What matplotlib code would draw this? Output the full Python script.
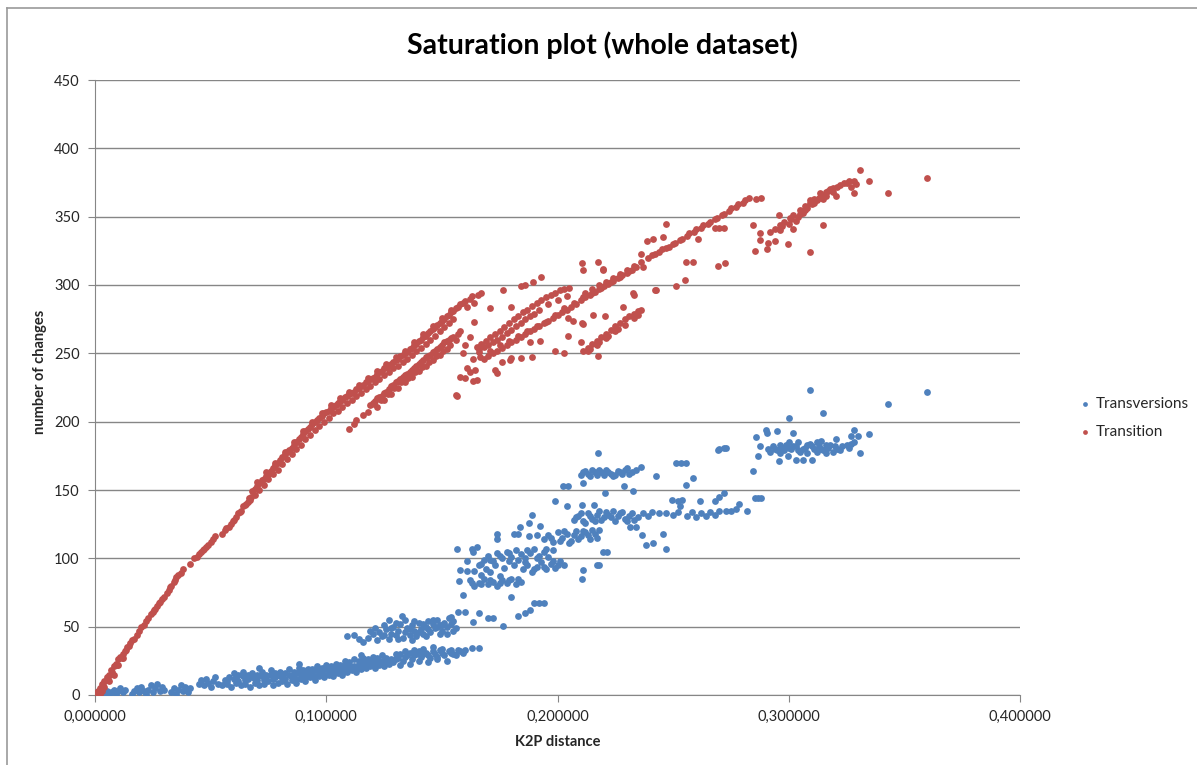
import numpy as np
import matplotlib.pyplot as plt
from matplotlib.lines import Line2D
from matplotlib.ticker import FuncFormatter

plt.rcParams['font.family'] = ['Lato', 'DejaVu Sans']

# ---- Transition (red) : (K2P distance, number of changes) ----
ts_origin = [(0.000, 0), (0.001, 2), (0.002, 5), (0.003, 8), (0.004, 10), (0.005, 13), (0.006, 15),
             (0.007, 18), (0.008, 21), (0.009, 23), (0.010, 26), (0.011, 28), (0.012, 30), (0.013, 32),
             (0.014, 35), (0.015, 38), (0.016, 40), (0.018, 44), (0.019, 47), (0.020, 50), (0.022, 54),
             (0.024, 59), (0.025, 61), (0.026, 63), (0.027, 65), (0.028, 68), (0.029, 70), (0.031, 75),
             (0.032, 77), (0.033, 80), (0.034, 83), (0.035, 86), (0.036, 88), (0.038, 92), (0.041, 96),
             (0.043, 100), (0.045, 103), (0.046, 105), (0.047, 107), (0.049, 110), (0.050, 112),
             (0.052, 116), (0.055, 118), (0.056, 121), (0.058, 123), (0.059, 125), (0.060, 128),
             (0.061, 130), (0.062, 133), (0.063, 135), (0.064, 138), (0.065, 139), (0.066, 141),
             (0.067, 143), (0.001, 0), (0.002, 1), (0.003, 3), (0.004, 6), (0.006, 10), (0.008, 15),
             (0.010, 22), (0.012, 27)]

ts_origin_fill = [(0.0015, 3), (0.0035, 7), (0.0055, 12), (0.0075, 17), (0.0095, 22), (0.0115, 27),
                  (0.0135, 33), (0.0145, 36), (0.017, 41), (0.021, 51), (0.023, 56), (0.0255, 62),
                  (0.0275, 67), (0.030, 72), (0.0325, 79), (0.0345, 84), (0.037, 89), (0.044, 101),
                  (0.0465, 106), (0.048, 108), (0.051, 114), (0.0565, 122), (0.0595, 127),
                  (0.0625, 134), (0.0655, 140), (0.0665, 144), (0.0675, 145)]

ts_band_hi = [(0.068, 149), (0.069, 151), (0.070, 153), (0.071, 155), (0.072, 157), (0.073, 158),
              (0.074, 160), (0.075, 162), (0.076, 164), (0.077, 166), (0.078, 168), (0.079, 170),
              (0.080, 172), (0.081, 174), (0.082, 176), (0.083, 178), (0.084, 179), (0.085, 181),
              (0.086, 183), (0.087, 185), (0.088, 187), (0.089, 189), (0.090, 191), (0.091, 193),
              (0.092, 195), (0.093, 196), (0.094, 198), (0.095, 200), (0.096, 201), (0.097, 203),
              (0.098, 204), (0.099, 206), (0.100, 207), (0.101, 208), (0.102, 210), (0.103, 211),
              (0.104, 212), (0.105, 214), (0.106, 215), (0.107, 216), (0.108, 218), (0.109, 219),
              (0.110, 220), (0.111, 221), (0.112, 222), (0.113, 224), (0.114, 225), (0.115, 226),
              (0.116, 227), (0.117, 229), (0.118, 230), (0.119, 231), (0.120, 232), (0.121, 233),
              (0.122, 235), (0.123, 236), (0.124, 237), (0.125, 239), (0.126, 240), (0.127, 241),
              (0.128, 242), (0.129, 244), (0.130, 245), (0.131, 246), (0.132, 248), (0.133, 249),
              (0.134, 250), (0.135, 251), (0.136, 253), (0.137, 254), (0.138, 256), (0.139, 257),
              (0.140, 259), (0.141, 260), (0.142, 262), (0.143, 263), (0.144, 265), (0.145, 266),
              (0.146, 268), (0.147, 269), (0.148, 271), (0.149, 272), (0.150, 274), (0.151, 275),
              (0.152, 277), (0.153, 278), (0.154, 280), (0.155, 281), (0.156, 283), (0.157, 284),
              (0.158, 286), (0.159, 287), (0.160, 288), (0.162, 290), (0.163, 292), (0.1656, 293),
              (0.167, 294), (0.161, 284), (0.164, 287)]

ts_band_lo = [(0.069, 146), (0.071, 150), (0.073, 154), (0.075, 158), (0.077, 162), (0.079, 165),
              (0.081, 169), (0.083, 173), (0.085, 176), (0.087, 180), (0.089, 183), (0.091, 187),
              (0.093, 190), (0.095, 194), (0.097, 197), (0.099, 200), (0.101, 203), (0.103, 206),
              (0.105, 208), (0.107, 211), (0.109, 214), (0.111, 216), (0.113, 219), (0.115, 221),
              (0.117, 224), (0.119, 226), (0.121, 229), (0.123, 231), (0.125, 234), (0.127, 236),
              (0.129, 239), (0.131, 241), (0.133, 244), (0.135, 246), (0.137, 249), (0.139, 252),
              (0.141, 254), (0.143, 257), (0.145, 260), (0.147, 263), (0.149, 266), (0.151, 269),
              (0.153, 272), (0.155, 275)]

ts_band_top = [(0.070, 156), (0.074, 163), (0.078, 170), (0.082, 178), (0.086, 185), (0.090, 193),
               (0.094, 200), (0.098, 206), (0.102, 212), (0.106, 217), (0.110, 222), (0.114, 227),
               (0.118, 232), (0.122, 237), (0.126, 242), (0.130, 247), (0.134, 252), (0.138, 258),
               (0.142, 264), (0.146, 270), (0.150, 276), (0.154, 282)]

ts_branch = [(0.119, 212), (0.120, 214), (0.121, 215), (0.122, 217), (0.123, 218), (0.124, 219),
             (0.125, 221), (0.126, 222), (0.127, 224), (0.128, 226), (0.129, 227), (0.130, 229),
             (0.131, 230), (0.132, 231), (0.133, 233), (0.134, 234), (0.135, 235), (0.136, 236),
             (0.137, 238), (0.138, 239), (0.139, 241), (0.140, 242), (0.141, 244), (0.142, 245),
             (0.143, 247), (0.144, 248), (0.145, 249), (0.146, 251), (0.147, 252), (0.148, 253),
             (0.149, 255), (0.150, 256), (0.151, 258), (0.152, 259), (0.153, 260), (0.154, 261),
             (0.155, 262), (0.157, 264), (0.158, 266), (0.122, 211), (0.125, 216), (0.128, 220),
             (0.131, 225), (0.134, 229), (0.137, 233), (0.140, 237), (0.143, 241), (0.146, 245),
             (0.149, 249), (0.152, 253), (0.110, 195), (0.113, 201), (0.116, 205), (0.112, 198),
             (0.118, 207), (0.156, 219.5), (0.158, 233), (0.161, 239), (0.1635, 230), (0.160, 256),
             (0.162, 262), (0.159, 250), (0.1205, 213), (0.1235, 216), (0.1265, 220), (0.1295, 225),
             (0.1325, 229), (0.1355, 232), (0.1385, 236), (0.1415, 240), (0.1445, 244), (0.1475, 248),
             (0.1505, 252), (0.1535, 256), (0.156, 260)]

ts_mid = [(0.165, 255), (0.167, 257), (0.169, 259), (0.171, 262), (0.173, 264), (0.175, 266),
          (0.177, 269), (0.179, 272), (0.181, 275), (0.183, 277), (0.185, 280), (0.187, 282),
          (0.189, 285), (0.191, 287), (0.193, 289), (0.195, 291), (0.197, 293), (0.199, 294),
          (0.201, 296), (0.203, 297), (0.205, 298), (0.166, 251), (0.170, 256), (0.174, 260),
          (0.178, 265), (0.182, 270), (0.186, 275), (0.190, 279),
          (0.168, 246), (0.170, 248), (0.172, 250), (0.174, 252), (0.176, 254), (0.178, 256),
          (0.180, 258), (0.182, 260), (0.184, 262), (0.186, 264), (0.188, 266), (0.190, 268),
          (0.192, 270), (0.194, 272), (0.196, 274), (0.198, 276), (0.200, 278), (0.202, 280),
          (0.204, 282), (0.206, 284), (0.208, 286), (0.210, 289), (0.212, 291), (0.214, 293),
          (0.216, 295), (0.218, 297), (0.220, 299), (0.222, 301), (0.224, 303), (0.226, 305),
          (0.228, 307), (0.230, 309), (0.232, 311), (0.234, 313)]

ts_mid_fill = [(0.166, 253), (0.168, 255), (0.172, 258), (0.176, 262), (0.180, 267), (0.184, 272),
               (0.188, 277), (0.192, 282), (0.196, 286), (0.200, 289), (0.204, 292), (0.171, 252),
               (0.175, 256), (0.179, 259), (0.183, 263), (0.187, 266), (0.191, 270), (0.195, 273),
               (0.199, 278), (0.203, 283), (0.207, 287), (0.211, 291), (0.215, 294), (0.219, 298),
               (0.223, 302), (0.227, 306), (0.231, 310), (0.213, 252), (0.217, 256), (0.221, 261),
               (0.225, 266), (0.229, 271), (0.233, 276), (0.235, 278), (0.241, 322), (0.247, 327),
               (0.253, 333), (0.259, 339), (0.265, 345), (0.271, 351), (0.277, 357), (0.280, 360),
               (0.244, 324), (0.250, 330), (0.256, 336), (0.262, 342), (0.268, 348), (0.274, 354)]

ts_upper_right = [(0.212, 294), (0.215, 297), (0.218, 300), (0.221, 302), (0.224, 305), (0.227, 308),
                  (0.230, 311), (0.233, 314), (0.236, 317), (0.239, 320), (0.242, 323), (0.245, 326),
                  (0.248, 328), (0.251, 331), (0.254, 334), (0.257, 338), (0.260, 341), (0.263, 344),
                  (0.266, 346), (0.269, 349), (0.272, 352), (0.275, 356), (0.278, 359), (0.281, 362),
                  (0.283, 364), (0.286, 363), (0.288, 364)]

ts_lower_right = [(0.211, 252), (0.213, 254), (0.215, 257), (0.217, 259), (0.219, 262), (0.221, 264),
                  (0.223, 267), (0.225, 270), (0.227, 272), (0.229, 275), (0.231, 277), (0.233, 279),
                  (0.235, 281), (0.236, 282), (0.214, 253), (0.218, 258), (0.222, 263), (0.226, 268)]

ts_far = [(0.2919, 339), (0.294, 341), (0.2962, 344), (0.298, 346), (0.3005, 349), (0.302, 351),
          (0.3049, 355), (0.307, 358), (0.3092, 362), (0.311, 363), (0.3135, 367), (0.316, 368),
          (0.3193, 371), (0.322, 373), (0.3237, 375), (0.326, 376), (0.328, 376), (0.3308, 384),
          (0.3347, 376), (0.3428, 367.5), (0.3596, 378), (0.3282, 367.5), (0.327, 372), (0.329, 374),
          (0.300, 345), (0.304, 350), (0.308, 356), (0.312, 362), (0.316, 365), (0.296, 340),
          (0.306, 353), (0.310, 359), (0.314, 366), (0.318, 370), (0.297, 343), (0.301, 348),
          (0.305, 352), (0.309, 360), (0.313, 364), (0.317, 369), (0.321, 372), (0.325, 375),
          (0.303, 347), (0.307, 355), (0.311, 360), (0.315, 363), (0.319, 368)]

ts_scatter = [(0.2847, 344), (0.2876, 338), (0.2876, 333), (0.2854, 325), (0.2905, 326), (0.291, 331),
              (0.294, 332), (0.2997, 330), (0.3018, 341), (0.2958, 351), (0.3092, 324), (0.3149, 344),
              (0.3204, 365), (0.2608, 334), (0.268, 342), (0.270, 342), (0.272, 342), (0.2694, 314),
              (0.2724, 316), (0.2555, 317), (0.2586, 317), (0.2426, 296), (0.2513, 299), (0.255, 304),
              (0.247, 345), (0.2385, 332), (0.2414, 334), (0.2457, 335), (0.236, 323), (0.237, 313),
              (0.233, 293), (0.2284, 284), (0.2205, 277), (0.211, 271.5), (0.2068, 274), (0.2105, 316),
              (0.2177, 317), (0.2198, 312), (0.184, 299), (0.1895, 302), (0.193, 306), (0.1766, 296),
              (0.164, 273), (0.171, 283), (0.180, 284), (0.199, 252), (0.203, 250), (0.2177, 248),
              (0.210, 258), (0.1737, 235.5), (0.165, 230.5), (0.160, 232), (0.184, 246.5), (0.189, 247),
              (0.1758, 244), (0.1795, 245), (0.1665, 247.5), (0.1636, 246), (0.211, 311), (0.2196, 311),
              (0.2422, 296), (0.2045, 263), (0.2104, 272), (0.2154, 278), (0.2045, 276), (0.1881, 258.5),
              (0.1924, 259), (0.180, 246.5), (0.173, 238), (0.1643, 237.8), (0.1564, 218.8), (0.162, 236),
              (0.2327, 294), (0.186, 300)]

# ---- Transversions (blue) ----
tv_origin = [(0.001, 0), (0.002, 1), (0.003, 2), (0.004, 0), (0.005, 3), (0.006, 1), (0.007, 2),
             (0.008, 4), (0.009, 1), (0.010, 3), (0.011, 5), (0.012, 2), (0.013, 4), (0.016, 1),
             (0.017, 3), (0.018, 5), (0.019, 2), (0.020, 6), (0.021, 3), (0.022, 1), (0.023, 4),
             (0.024, 7), (0.025, 2), (0.026, 5), (0.027, 8), (0.028, 3), (0.029, 6), (0.030, 4),
             (0.033, 2), (0.034, 5), (0.035, 1), (0.036, 4), (0.037, 7), (0.038, 3), (0.039, 6),
             (0.040, 2), (0.041, 5), (0.045, 8), (0.046, 11), (0.047, 7), (0.048, 12), (0.049, 9),
             (0.050, 6), (0.051, 10), (0.052, 13), (0.053, 8)]

tv_band = [(0.055, 7), (0.057, 8), (0.059, 6), (0.061, 9), (0.063, 7), (0.065, 8), (0.067, 6),
           (0.069, 9), (0.071, 7), (0.073, 8), (0.075, 10), (0.077, 7), (0.079, 9), (0.081, 10),
           (0.083, 8), (0.085, 11), (0.087, 9), (0.089, 12), (0.091, 10), (0.093, 13), (0.095, 11),
           (0.097, 14), (0.099, 13), (0.101, 15), (0.103, 14), (0.105, 16), (0.107, 15), (0.109, 17),
           (0.111, 18), (0.113, 17), (0.115, 19), (0.117, 20), (0.119, 21), (0.121, 20), (0.123, 22),
           (0.125, 21), (0.127, 23),
           (0.056, 11), (0.058, 13), (0.060, 12), (0.062, 10), (0.064, 14), (0.066, 12), (0.068, 13),
           (0.070, 11), (0.072, 14), (0.074, 12), (0.076, 15), (0.078, 13), (0.080, 14), (0.082, 12),
           (0.084, 15), (0.086, 14), (0.088, 16), (0.090, 15), (0.092, 17), (0.094, 16), (0.096, 18),
           (0.098, 17), (0.100, 19), (0.102, 18), (0.104, 20), (0.106, 19), (0.108, 21), (0.110, 22),
           (0.112, 21), (0.114, 23), (0.116, 24), (0.118, 23), (0.120, 25), (0.122, 26), (0.124, 25),
           (0.126, 27), (0.128, 26),
           (0.060, 16), (0.064, 17), (0.068, 16), (0.072, 17), (0.076, 18), (0.080, 17), (0.084, 19),
           (0.088, 20), (0.092, 19), (0.096, 21), (0.100, 22), (0.104, 23), (0.108, 25), (0.112, 26),
           (0.116, 27), (0.120, 28), (0.124, 29), (0.071, 20), (0.088, 23), (0.115, 29)]

tv_band_fill = [(0.057, 10), (0.061, 13), (0.065, 11), (0.069, 12), (0.073, 11), (0.077, 12),
                (0.081, 13), (0.085, 13), (0.087, 12), (0.089, 14), (0.091, 13), (0.093, 15),
                (0.095, 14), (0.097, 16), (0.099, 15), (0.101, 17), (0.103, 17), (0.105, 18),
                (0.107, 18), (0.109, 19), (0.111, 20), (0.113, 20), (0.115, 22), (0.117, 22),
                (0.119, 24), (0.121, 23), (0.123, 25), (0.125, 24), (0.127, 25), (0.094, 19),
                (0.098, 20), (0.102, 21), (0.106, 22), (0.110, 24), (0.114, 25), (0.118, 26),
                (0.122, 27), (0.082, 16), (0.086, 17), (0.090, 18), (0.078, 16), (0.074, 15),
                (0.070, 15), (0.066, 15), (0.062, 15)]

tv_band_end = [(0.129, 24), (0.131, 27), (0.133, 25), (0.135, 29), (0.137, 26), (0.139, 30), (0.141, 28),
               (0.143, 31), (0.145, 27), (0.147, 30), (0.149, 33), (0.151, 29), (0.153, 32), (0.155, 30),
               (0.157, 33), (0.159, 31), (0.130, 30), (0.134, 32), (0.138, 33), (0.142, 34), (0.146, 35),
               (0.150, 34), (0.154, 33), (0.132, 22), (0.136, 23), (0.140, 25), (0.144, 24), (0.148, 26),
               (0.163, 34.5), (0.166, 34.5), (0.152, 25), (0.130, 26), (0.134, 28), (0.138, 29),
               (0.142, 30), (0.146, 32), (0.150, 31), (0.154, 31), (0.158, 32), (0.132, 30), (0.136, 31),
               (0.140, 32), (0.144, 29), (0.148, 28), (0.156, 29), (0.160, 33)]

tv_upper = [(0.109, 43), (0.112, 44), (0.114, 41), (0.116, 39), (0.118, 42), (0.120, 45), (0.122, 40),
            (0.123, 46), (0.124, 43), (0.126, 48), (0.127, 41), (0.128, 45), (0.129, 50), (0.130, 44),
            (0.131, 47), (0.132, 52), (0.133, 42), (0.134, 46), (0.135, 49), (0.136, 44), (0.137, 51),
            (0.138, 47), (0.139, 43), (0.140, 53), (0.141, 48), (0.142, 45), (0.143, 50), (0.144, 54),
            (0.145, 46), (0.146, 52), (0.147, 49), (0.148, 55), (0.149, 51), (0.150, 47), (0.151, 53),
            (0.152, 50), (0.153, 56), (0.154, 52), (0.155, 54), (0.156, 49), (0.1326, 58), (0.127, 55),
            (0.157, 61), (0.160, 61), (0.166, 60), (0.1636, 53.6), (0.170, 56.5), (0.172, 56.5),
            (0.1766, 50.5), (0.180, 71.5), (0.159, 73), (0.121, 49), (0.125, 51), (0.130, 53),
            (0.134, 55), (0.138, 54), (0.142, 52), (0.146, 55), (0.150, 51), (0.154, 57), (0.119, 47),
            (0.125, 44), (0.131, 41), (0.137, 40), (0.143, 43), (0.149, 45), (0.155, 47), (0.128, 49),
            (0.136, 48), (0.140, 46), (0.144, 48), (0.148, 50), (0.152, 45)]

tv_mid = [(0.1564, 106.6), (0.1607, 98), (0.158, 91.5), (0.161, 91), (0.164, 91), (0.163, 107),
          (0.165, 108.5), (0.1633, 105), (0.1575, 83.4),
          (0.162, 84), (0.164, 80), (0.166, 82), (0.168, 85), (0.170, 81), (0.172, 83), (0.174, 80),
          (0.176, 84), (0.178, 82), (0.180, 85), (0.182, 81), (0.184, 83), (0.167, 88), (0.175, 87),
          (0.166, 95), (0.168, 99), (0.170, 102), (0.172, 98), (0.174, 104), (0.176, 100), (0.178, 105),
          (0.180, 101), (0.182, 106), (0.184, 103), (0.186, 100), (0.188, 104), (0.190, 107),
          (0.192, 102), (0.194, 105), (0.196, 101), (0.198, 106), (0.185, 92), (0.187, 95), (0.189, 90),
          (0.191, 94), (0.193, 97), (0.195, 92), (0.197, 96), (0.199, 93), (0.201, 98), (0.203, 95),
          (0.169, 92), (0.171, 90), (0.173, 95), (0.177, 93),
          (0.183, 58), (0.186, 60), (0.188, 62), (0.190, 67.5), (0.192, 67.5), (0.194, 67.5),
          (0.194, 114), (0.196, 117), (0.198, 112), (0.200, 119), (0.202, 115), (0.204, 118),
          (0.206, 113), (0.208, 120), (0.210, 116), (0.212, 119), (0.214, 114), (0.216, 118),
          (0.218, 121), (0.205, 111),
          (0.207, 128), (0.209, 131), (0.211, 127), (0.213, 133), (0.215, 129), (0.217, 132),
          (0.219, 128), (0.221, 134), (0.223, 130), (0.225, 127), (0.227, 133), (0.229, 129),
          (0.231, 131), (0.233, 128), (0.235, 130), (0.212, 126), (0.218, 135), (0.224, 135),
          (0.210, 161), (0.212, 164), (0.214, 160), (0.216, 163), (0.218, 165), (0.220, 161),
          (0.222, 163), (0.224, 160), (0.226, 164), (0.228, 162), (0.230, 166), (0.232, 163),
          (0.234, 165), (0.236, 167)]

tv_mid_fill = [(0.167, 96), (0.171, 99), (0.175, 102), (0.179, 98), (0.183, 99), (0.187, 106),
               (0.191, 100), (0.195, 107), (0.179, 104), (0.181, 95), (0.186, 97), (0.190, 92),
               (0.194, 94), (0.198, 98), (0.200, 95), (0.163, 82), (0.167, 81), (0.171, 84),
               (0.175, 82), (0.179, 84), (0.183, 85), (0.197, 115), (0.201, 113), (0.203, 120),
               (0.207, 117), (0.209, 114), (0.211, 120), (0.213, 117), (0.215, 121), (0.217, 115),
               (0.208, 130), (0.210, 133), (0.214, 131), (0.216, 127), (0.220, 130), (0.222, 132),
               (0.226, 131), (0.228, 134), (0.230, 127), (0.232, 133), (0.211, 163), (0.213, 162),
               (0.215, 165), (0.217, 161), (0.219, 163), (0.221, 165), (0.223, 162), (0.225, 161),
               (0.227, 163), (0.229, 165), (0.231, 162)]

tv_scatter = [(0.2175, 177), (0.2025, 153), (0.2045, 153), (0.2109, 155), (0.199, 142), (0.204, 138),
              (0.2104, 139), (0.2158, 139), (0.2205, 148), (0.2288, 153), (0.2327, 149), (0.189, 132),
              (0.1877, 126), (0.1924, 124), (0.1838, 123), (0.1737, 118), (0.181, 117.6), (0.183, 118),
              (0.1877, 116), (0.191, 117), (0.1737, 114), (0.2109, 91.5), (0.2104, 84.6), (0.217, 95),
              (0.218, 95), (0.2197, 105), (0.2213, 105), (0.2313, 123), (0.234, 123), (0.2364, 117),
              (0.2383, 110), (0.2414, 111), (0.2457, 118), (0.247, 107)]

tv_right = [(0.237, 133), (0.239, 131), (0.241, 134), (0.247, 133), (0.250, 132), (0.252, 134),
            (0.2496, 143), (0.252, 142), (0.254, 143), (0.256, 131), (0.258, 134), (0.260, 130),
            (0.262, 133), (0.264, 131), (0.266, 134), (0.268, 132), (0.2616, 142), (0.268, 142),
            (0.270, 145), (0.272, 148), (0.270, 135), (0.273, 135), (0.275, 135), (0.277, 136),
            (0.2785, 140), (0.2818, 135), (0.2854, 144), (0.2867, 144), (0.288, 144), (0.244, 133),
            (0.253, 138),
            (0.2513, 170), (0.2535, 170), (0.2556, 170), (0.2425, 160), (0.2554, 154), (0.2587, 159),
            (0.2695, 179), (0.2727, 181), (0.2847, 164), (0.2868, 175), (0.2876, 182), (0.2858, 189),
            (0.2905, 192), (0.2948, 193), (0.2999, 203), (0.3017, 192), (0.2958, 171), (0.2995, 175),
            (0.3092, 223), (0.3596, 222), (0.3428, 213), (0.3146, 206), (0.290, 194), (0.314, 186),
            (0.3203, 187), (0.327, 189.5), (0.330, 189.5), (0.3282, 194), (0.3347, 191), (0.3282, 185),
            (0.3308, 177), (0.303, 172), (0.306, 172), (0.310, 172), (0.270, 180), (0.272, 181),
            (0.291, 180), (0.293, 182), (0.295, 179), (0.297, 181), (0.299, 183), (0.301, 180),
            (0.303, 182), (0.305, 178), (0.307, 181), (0.309, 184), (0.311, 180), (0.313, 182),
            (0.315, 179), (0.317, 181), (0.319, 178), (0.321, 180), (0.323, 182), (0.325, 183),
            (0.327, 184), (0.296, 177), (0.300, 185), (0.304, 185), (0.308, 177), (0.312, 185),
            (0.316, 177), (0.292, 178), (0.294, 180), (0.296, 183), (0.298, 179), (0.302, 182),
            (0.306, 180), (0.310, 182), (0.314, 180), (0.318, 183), (0.322, 179), (0.326, 181),
            (0.300, 181), (0.304, 179), (0.308, 183), (0.312, 178), (0.316, 183), (0.320, 182)]

transition = np.array(ts_origin + ts_origin_fill + ts_band_hi + ts_band_lo + ts_band_top + ts_branch
                      + ts_mid + ts_mid_fill + ts_upper_right + ts_lower_right + ts_far + ts_scatter)
transversions = np.array(tv_origin + tv_band + tv_band_fill + tv_band_end + tv_upper + tv_mid
                         + tv_mid_fill + tv_scatter + tv_right)

blue = '#4F81BD'
red = '#C0504D'
grid_col = '#868686'
txt = '#262626'

fig = plt.figure(figsize=(11.97, 7.65), dpi=100)
ax = fig.add_axes([95 / 1197, 70 / 765, 925 / 1197, 615 / 765])

ax.scatter(transversions[:, 0], transversions[:, 1], s=24, color=blue, linewidths=0,
           label='Transversions', zorder=3)
ax.scatter(transition[:, 0], transition[:, 1], s=24, color=red, linewidths=0,
           label='Transition', zorder=3)

ax.set_xlim(0, 0.4)
ax.set_ylim(0, 450)
ax.set_xticks([0, 0.1, 0.2, 0.3, 0.4])
ax.set_yticks(range(0, 451, 50))
ax.xaxis.set_major_formatter(FuncFormatter(lambda v, p: f'{v:.6f}'.replace('.', ',')))
ax.yaxis.grid(True, color=grid_col, linewidth=1)
ax.set_axisbelow(True)
for s in ['top', 'right']:
    ax.spines[s].set_visible(False)
ax.spines['left'].set_color(grid_col)
ax.spines['bottom'].set_color(grid_col)
ax.tick_params(axis='both', colors=grid_col, labelcolor=txt, labelsize=10.5, length=5)
ax.tick_params(axis='y', pad=6)
ax.tick_params(axis='x', pad=6)

ax.set_xlabel('K2P distance', fontsize=10.5, fontweight='bold', color=txt, va='center')
ax.set_ylabel('number of changes', fontsize=10.5, fontweight='bold', color=txt, va='center')
ax.xaxis.set_label_coords(0.5, (695 - 742) / 615)
ax.yaxis.set_label_coords((40 - 95) / 925, (695 - 372) / 615)

fig.text(0.503, 1 - 45 / 765, 'Saturation plot (whole dataset)', ha='center', va='center',
         fontsize=20.5, fontweight='bold', color='black')

fig.legend(loc='center left', bbox_to_anchor=(1062 / 1197, 1 - 418 / 765), frameon=False,
           fontsize=11, markerscale=0.7, handlelength=1.2, handletextpad=0.1, labelspacing=0.9,
           labelcolor=txt)

# chart frame
fig.add_artist(Line2D([7 / 1197, 7 / 1197], [0, 1 - 8 / 765], color='#9a9a9a', linewidth=1.2))
fig.add_artist(Line2D([7 / 1197, 1], [1 - 8 / 765, 1 - 8 / 765], color='#9a9a9a', linewidth=1.2))

fig.savefig('out.png', dpi=100)
